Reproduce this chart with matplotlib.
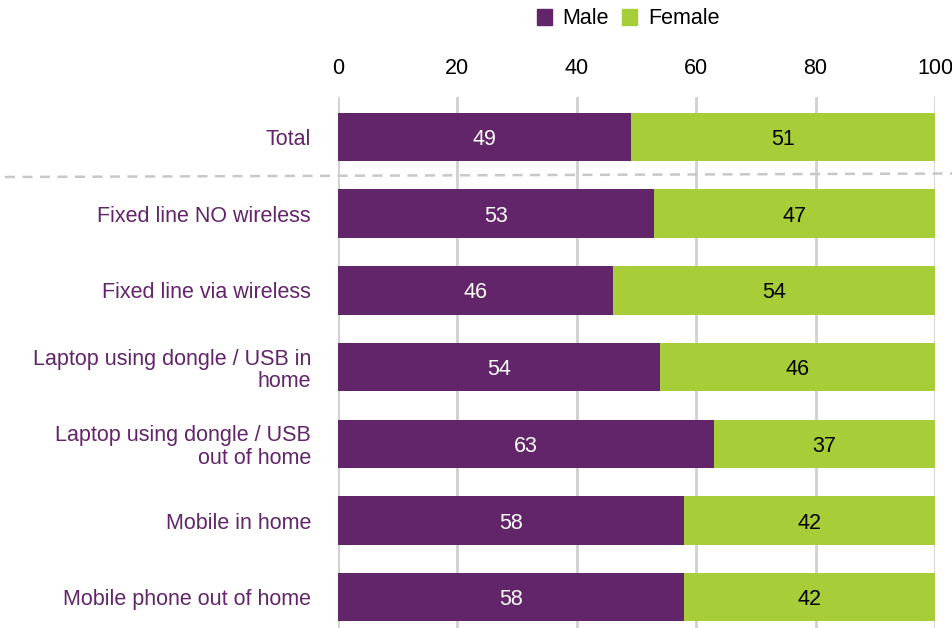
import matplotlib.pyplot as plt
from matplotlib.lines import Line2D

plt.rcParams['font.family'] = ['Liberation Sans', 'DejaVu Sans']

categories = ['Total', 'Fixed line NO wireless', 'Fixed line via wireless',
              'Laptop using dongle / USB in\nhome', 'Laptop using dongle / USB\nout of home',
              'Mobile in home', 'Mobile phone out of home']
male = [49, 53, 46, 54, 63, 58, 58]
female = [51, 47, 54, 46, 37, 42, 42]
xticks = [0, 20, 40, 60, 80, 100]

purple = '#62256a'
green = '#a7ce38'
fs = 15.5

fig = plt.figure(figsize=(9.53, 6.28), dpi=100)
ax = fig.add_axes([338 / 953, 0, (935 - 338) / 953, (628 - 97) / 628])

y = list(range(len(categories)))
ax.barh(y, male, height=0.63, color=purple, label='Male', zorder=3)
ax.barh(y, female, left=male, height=0.63, color=green, label='Female', zorder=3)

for i in y:
    ax.text(male[i] / 2, i, str(male[i]), ha='center', va='center_baseline', color='white', fontsize=fs, zorder=4)
    ax.text(male[i] + female[i] / 2, i, str(female[i]), ha='center', va='center_baseline', color='black', fontsize=fs, zorder=4)

ax.set_xlim(0, 100)
ax.set_ylim(6.4, -0.52)
ax.set_xticks(xticks)
ax.xaxis.tick_top()
ax.tick_params(axis='x', length=0, pad=13, labelsize=fs)
ax.set_yticks(y)
ax.set_yticklabels(categories, color=purple, fontsize=fs, ha='right', linespacing=1.1)
ax.tick_params(axis='y', length=0, pad=19.5)
ax.grid(axis='x', color='#d0d0d0', linewidth=2, zorder=0)
for s in ax.spines.values():
    s.set_visible(False)

# separator between Total and the rest
fig.add_artist(Line2D([5 / 953, 953 / 953], [1 - 177 / 628, 1 - 173.5 / 628],
                      transform=fig.transFigure, color='#c8c8c8', linewidth=1.8,
                      linestyle=(0, (4, 3)), zorder=5))

handles = [plt.Rectangle((0, 0), 1, 1, color=purple), plt.Rectangle((0, 0), 1, 1, color=green)]
fig.legend(handles, ['Male', 'Female'], loc='center', bbox_to_anchor=(628 / 953, 1 - 19 / 628),
           ncol=2, frameon=False, fontsize=fs, handlelength=0.7, handleheight=0.7,
           handletextpad=0.5, columnspacing=0.6)

fig.savefig('out.png', dpi=100)
